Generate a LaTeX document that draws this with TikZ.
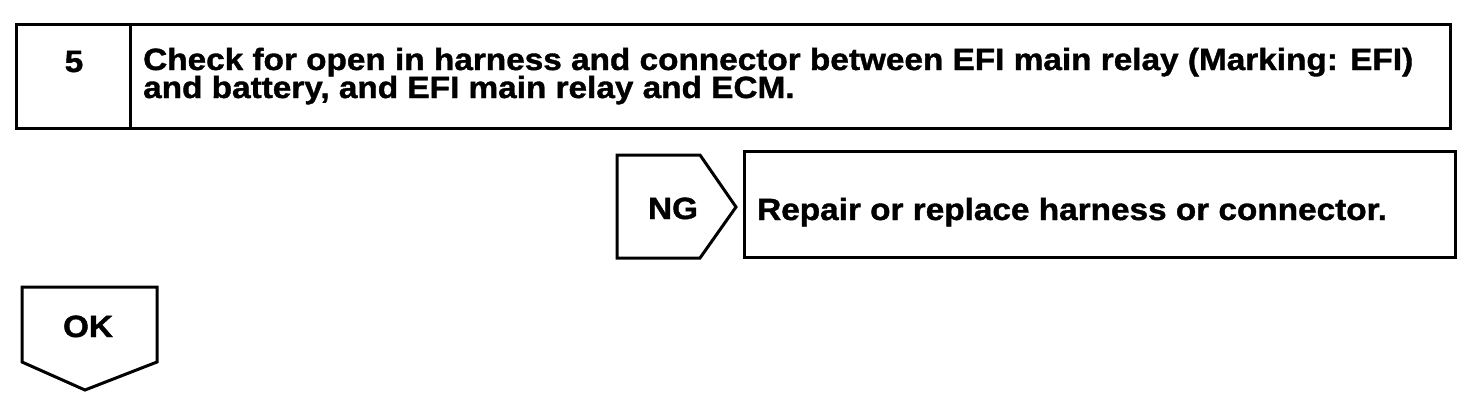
\documentclass[tikz,border=0pt]{standalone}
\usepackage{fontspec}
\setmainfont{Liberation Sans}
\newfontfamily\heavyfont{Liberation Sans Bold}[FakeBold=1.2]
\usepackage{graphicx}
\newlength{\reflen}
\newcommand{\stepfont}{\heavyfont\fontsize{30.7}{28}\selectfont}
\tikzset{
  frame/.style={draw=black, line width=3pt, line join=miter},
  txt/.style={anchor=base west, inner sep=0pt, font=\stepfont},
  ctxt/.style={anchor=base, inner sep=0pt, font=\stepfont}
}
\begin{document}
\settowidth{\reflen}{\stepfont Check for open in harness and connector between EFI main relay (Marking: EFI)}%
\pgfmathsetmacro{\fac}{1270/\reflen}%
\begin{tikzpicture}[x=1pt,y=-1pt]
\useasboundingbox[fill=white] (0,0) rectangle (1472,408);
% step box
\draw[frame] (16,24) rectangle (1450,128);
\draw[frame] (130,24) -- (130,128);
\node[ctxt] (num) at (74,72) {\scalebox{\fac}[1]{5}};
\node[txt] (l1) at (143,70) {\scalebox{\fac}[1]{Check for open in harness and connector between EFI main relay (Marking: EFI)}};
\node[txt] (l2) at (143,98) {\scalebox{\fac}[1]{and battery, and EFI main relay and ECM.}};
% NG
\draw[frame] (617,155) -- (700,155) -- (736,207) -- (700,258) -- (617,258) -- cycle;
\node[ctxt] (ng) at (673,219) {\scalebox{\fac}[1]{NG}};
\draw[frame] (744,151) rectangle (1455,257);
\node[txt] (rep) at (757,220) {\scalebox{\fac}[1]{Repair or replace harness or connector.}};
% OK
\draw[frame] (22,287) -- (157,287) -- (157,362) -- (85,390) -- (22,362) -- cycle;
\node[ctxt] (ok) at (88,337) {\scalebox{\fac}[1]{OK}};
\end{tikzpicture}
\end{document}
